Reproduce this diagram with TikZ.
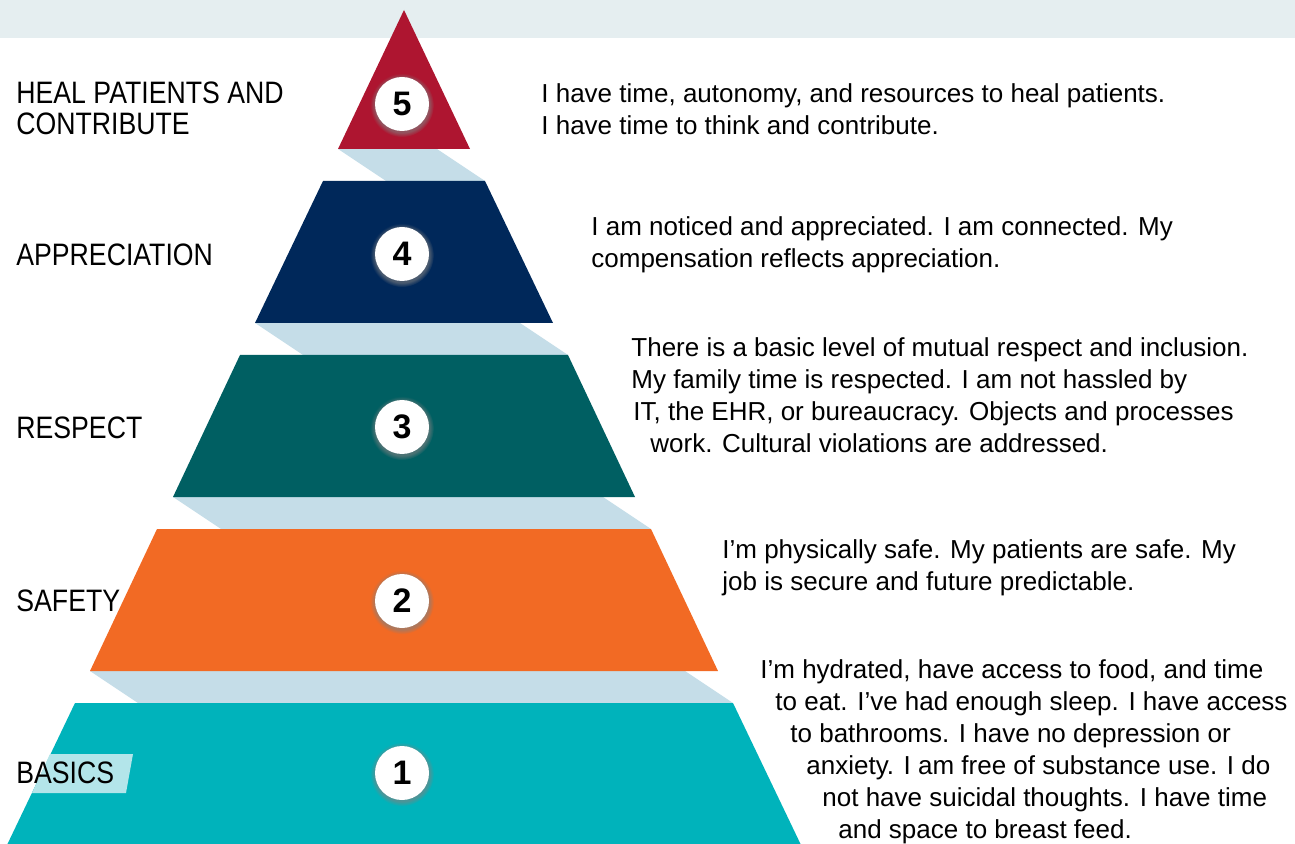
\documentclass[tikz,border=0pt]{standalone}
\usepackage{fontspec}
\setmainfont{Liberation Sans}
\newfontfamily\capsfont[FakeStretch=0.86]{Liberation Sans}
\usetikzlibrary{shadows}

\definecolor{topband}{HTML}{E5EEF0}
\definecolor{healred}{HTML}{AE1530}
\definecolor{apprnavy}{HTML}{00285A}
\definecolor{respteal}{HTML}{005F62}
\definecolor{safeorange}{HTML}{F26A24}
\definecolor{basiccyan}{HTML}{00B3BB}
\definecolor{gapblue}{HTML}{C5DDE8}
\definecolor{tabcyan}{HTML}{B3E5EA}

\begin{document}
\begin{tikzpicture}[x=0.5pt, y=-0.5pt,
  gap/.style={fill=gapblue},
  num/.style={circle, fill=white, minimum size=27pt, inner sep=0pt,
    font=\bfseries\fontsize{17}{17}\selectfont,
    circular drop shadow={shadow xshift=0pt, shadow yshift=-0.5pt, shadow scale=1.18, opacity=0.6}},
  level/.style={anchor=west, align=left, inner sep=0pt, font=\capsfont\fontsize{15.5}{15.5}\selectfont},
  blurb/.style={anchor=north west, align=left, inner sep=0pt, font=\fontsize{13}{16}\selectfont}]
  \useasboundingbox (0,0) rectangle (1295,844);
  \fill[topband] (0,0) rectangle (1295,38);

  % light steps between the tiers
  \fill[gap] (338,149) -- (437,149) -- (485,181) -- (386,181) -- cycle;
  \fill[gap] (255,323) -- (520,323) -- (568,355) -- (303,355) -- cycle;
  \fill[gap] (173,497) -- (603,497) -- (651,529) -- (221,529) -- cycle;
  \fill[gap] (90,671) -- (685,671) -- (733,703) -- (138,703) -- cycle;

  % the five tiers, top to bottom
  \fill[healred] (404,10) -- (470,149) -- (338,149) -- cycle;
  \fill[apprnavy] (323,181) -- (485,181) -- (553,323) -- (255,323) -- cycle;
  \fill[respteal] (240,355) -- (568,355) -- (635,497) -- (173,497) -- cycle;
  \fill[safeorange] (157,529) -- (651,529) -- (718,671) -- (90,671) -- cycle;
  \fill[basiccyan] (75,703) -- (733,703) -- (801,845) -- (7,845) -- cycle;
  \fill[tabcyan] (50,754) -- (133,754) -- (126,793) -- (32,793) -- cycle;

  \node[num] (c5) at (402,104) {5};
  \node[num] (c4) at (402,254) {4};
  \node[num] (c3) at (402,427) {3};
  \node[num] (c2) at (402,601) {2};
  \node[num] (c1) at (402,773) {1};

  \node[level] (heal) at (16,108) {HEAL PATIENTS AND\\CONTRIBUTE};
  \node[level] (appr) at (16,255) {APPRECIATION};
  \node[level] (resp) at (16,428) {RESPECT};
  \node[level] (safe) at (16,601) {SAFETY};
  \node[level] (basic) at (16,773) {BASICS};

  \node[blurb] (d5) at (541,83) {I have time, autonomy, and resources to heal patients.\\
    I have time to think and contribute.};
  \node[blurb] (d4) at (591,216) {I am noticed and appreciated. I am connected. My\\
    compensation reflects appreciation.};
  \node[blurb] (d3) at (631,337) {There is a basic level of mutual respect and inclusion.\\
    My family time is respected. I am not hassled by\\
    \hspace*{1pt}IT, the EHR, or bureaucracy. Objects and processes\\
    \hspace*{9.5pt}work. Cultural violations are addressed.};
  \node[blurb] (d2) at (722,539) {I’m physically safe. My patients are safe. My\\
    job is secure and future predictable.};
  \node[blurb] (d1) at (760,659) {I’m hydrated, have access to food, and time\\
    \hspace*{7.5pt}to eat. I’ve had enough sleep. I have access\\
    \hspace*{15pt}to bathrooms. I have no depression or\\
    \hspace*{23pt}anxiety. I am free of substance use. I do\\
    \hspace*{31pt}not have suicidal thoughts. I have time\\
    \hspace*{39pt}and space to breast feed.};
\end{tikzpicture}
\end{document}
